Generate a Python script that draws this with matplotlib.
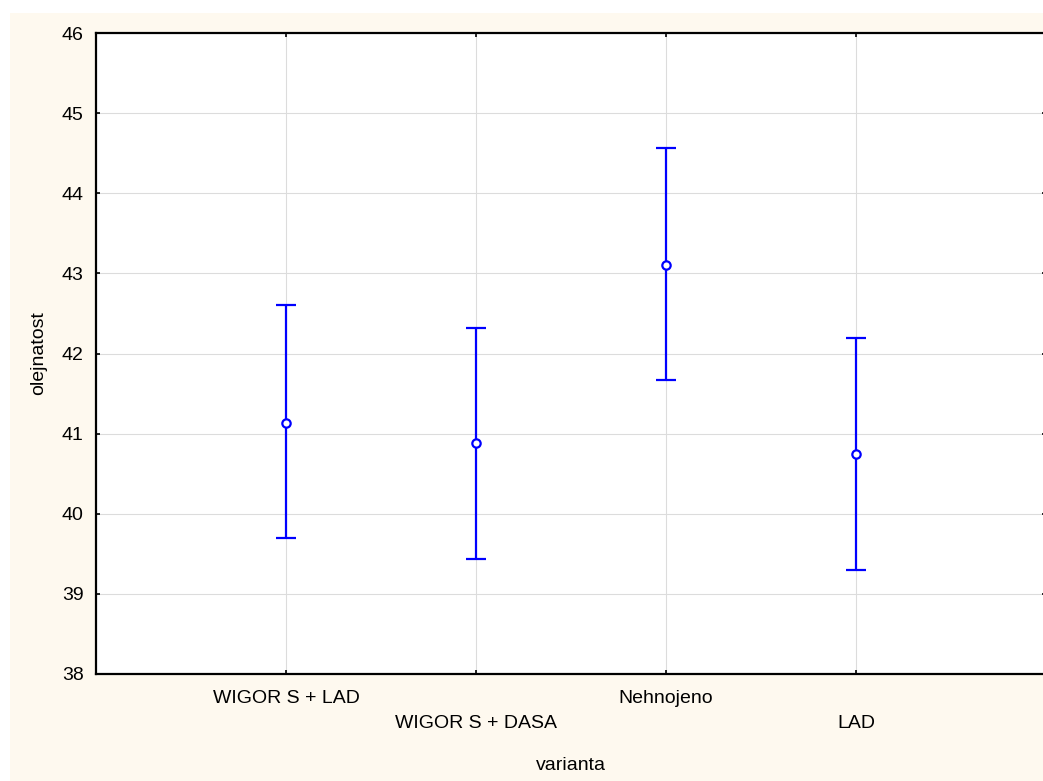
import matplotlib
matplotlib.use("Agg")
import matplotlib.pyplot as plt
from matplotlib.patches import Rectangle

categories = ["WIGOR S + LAD", "WIGOR S + DASA", "Nehnojeno", "LAD"]
means = [41.13, 40.88, 43.11, 40.74]
upper = [42.60, 42.32, 44.56, 42.19]
lower = [39.70, 39.43, 41.67, 39.30]
y_ticks = [38, 39, 40, 41, 42, 43, 44, 45, 46]

plt.rcParams['font.family'] = ['Liberation Sans', 'DejaVu Sans']

W, H = 1043, 781
fig = plt.figure(figsize=(W / 100, H / 100), dpi=100, facecolor="white")
fig.patches.append(Rectangle((10 / W, 0), 1 - 10 / W, 1 - 13 / H,
                             transform=fig.transFigure, facecolor="#FEF9EF",
                             edgecolor="none", zorder=-10))

ax = fig.add_axes([96 / W, 1 - 674 / H, 950 / W, (674 - 33) / H])
ax.set_zorder(1)
ax.set_facecolor("white")

x = list(range(1, len(categories) + 1))
yerr_low = [m - l for m, l in zip(means, lower)]
yerr_up = [u - m for m, u in zip(means, upper)]
ax.errorbar(x, means, yerr=[yerr_low, yerr_up], fmt='o', color="#0000FF",
            ecolor="#0000FF", elinewidth=1.6, capsize=7, capthick=1.6,
            markersize=6, markerfacecolor="white", markeredgewidth=1.6,
            zorder=3)

ax.set_xlim(0, 5)
ax.set_ylim(38, 46)
ax.set_yticks(y_ticks)
ax.set_yticklabels([str(v) for v in y_ticks])
ax.set_xticks(x)
ax.set_xticklabels(categories)

ax.grid(True, color="#DCDCDC", linewidth=0.8, zorder=0)
ax.set_axisbelow(True)

for s in ax.spines.values():
    s.set_linewidth(1.6)
    s.set_color("black")

ax.tick_params(axis='both', direction='in', length=3, width=1.2,
               labelsize=14, colors="black", top=True, right=True)
ax.tick_params(axis='y', pad=9)
for i, t in enumerate(ax.xaxis.get_major_ticks()):
    t.set_pad(11.5 if i % 2 == 0 else 29.5)

ax.set_xlabel("varianta", fontsize=14, labelpad=18)
ax.set_ylabel("olejnatost", fontsize=14, labelpad=10)

fig.savefig("out.png", dpi=100, facecolor=fig.get_facecolor())
